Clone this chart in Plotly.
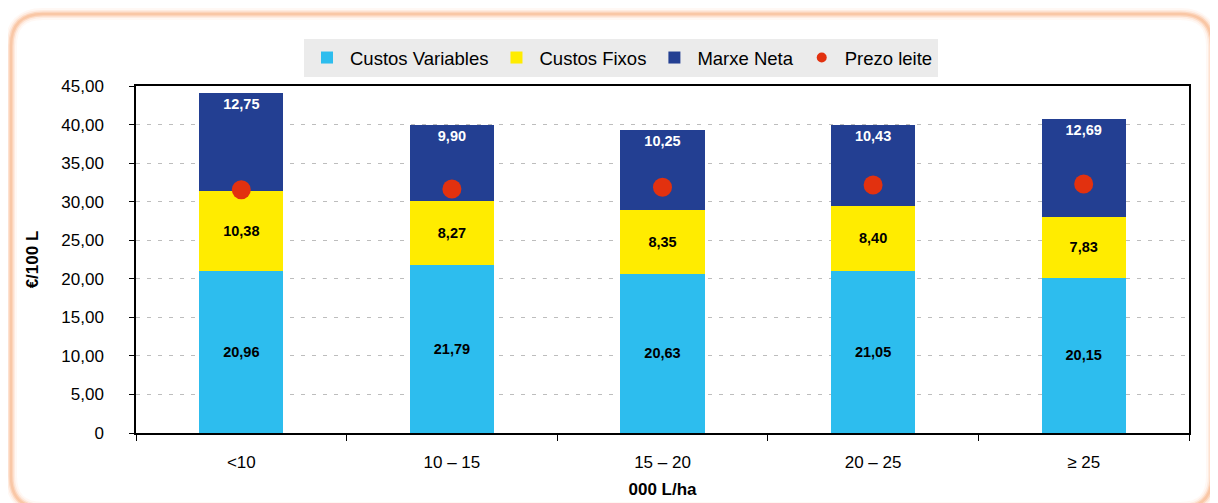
import plotly.graph_objects as go

# Data
categories = ["<10", "10 – 15", "15 – 20", "20 – 25", "≥ 25"]
custos_variables = [20.96, 21.79, 20.63, 21.05, 20.15]
custos_fixos = [10.38, 8.27, 8.35, 8.40, 7.83]
marxe_neta = [12.75, 9.90, 10.25, 10.43, 12.69]
prezo_leite = [31.55, 31.64, 31.87, 32.16, 32.29]
y_ticks = [0, 5, 10, 15, 20, 25, 30, 35, 40, 45]
y_ticklabels = ["0", "5,00", "10,00", "15,00", "20,00", "25,00", "30,00", "35,00", "40,00", "45,00"]

# page body has an 8px margin, so work in figure coords (page - 8)
OFF = 8
W, H = 1218 - OFF, 503 - OFF
L, R, T, B = 136 - OFF, 1189 - OFF, 86 - OFF, 433 - OFF


def fmt(v):
    return f"{v:.2f}".replace(".", ",")


def px(x):
    return (x - OFF - L) / (R - L)


def py(y):
    return (B - (y - OFF)) / (B - T)


FONT = "Liberation Sans, Arial, sans-serif"
RED = "#E2310F"

fig = go.Figure()

fig.add_trace(go.Bar(
    x=categories, y=custos_variables, name="Custos Variables",
    marker=dict(color="#2DBDEE", line=dict(width=0)),
    text=[fmt(v) for v in custos_variables], textposition="inside",
    insidetextanchor="middle",
    textfont=dict(family=FONT, size=14.5, color="black", weight="bold"),
))
fig.add_trace(go.Bar(
    x=categories, y=custos_fixos, name="Custos Fixos",
    marker=dict(color="#FFEC00", line=dict(width=0)),
    text=[fmt(v) for v in custos_fixos], textposition="inside",
    insidetextanchor="middle",
    textfont=dict(family=FONT, size=14.5, color="black", weight="bold"),
))
fig.add_trace(go.Bar(
    x=categories, y=marxe_neta, name="Marxe Neta",
    marker=dict(color="#233F92", line=dict(width=0)),
    text=[fmt(v) for v in marxe_neta], textposition="inside",
    insidetextanchor="end",
    textfont=dict(family=FONT, size=14.5, color="white", weight="bold"),
))
fig.add_trace(go.Scatter(
    x=categories, y=prezo_leite, name="Prezo leite", mode="markers",
    marker=dict(color=RED, size=19, line=dict(width=0)),
    showlegend=False,
))
# legend entry with the smaller dot used in the original legend
fig.add_trace(go.Scatter(
    x=[None], y=[None], name="Prezo leite", mode="markers",
    marker=dict(color=RED, size=10, line=dict(width=0)),
))

# rounded frame around the chart (page pixel coords converted to paper)
x0, x1, y0, y1, r = 11, 1212, 14, 508, 32


def rounded(x0, y0, x1, y1, r):
    pts = [
        f"M {px(x0 + r)},{py(y0)}",
        f"L {px(x1 - r)},{py(y0)}",
        f"Q {px(x1)},{py(y0)} {px(x1)},{py(y0 + r)}",
        f"L {px(x1)},{py(y1 - r)}",
        f"Q {px(x1)},{py(y1)} {px(x1 - r)},{py(y1)}",
        f"L {px(x0 + r)},{py(y1)}",
        f"Q {px(x0)},{py(y1)} {px(x0)},{py(y1 - r)}",
        f"L {px(x0)},{py(y0 + r)}",
        f"Q {px(x0)},{py(y0)} {px(x0 + r)},{py(y0)} Z",
    ]
    return " ".join(pts)


shapes = []
for w, op in [(12, 0.08), (8, 0.15), (5, 0.3)]:
    shapes.append(dict(type="path", xref="paper", yref="paper", layer="below",
                       path=rounded(x0, y0, x1, y1, r),
                       line=dict(color=f"rgba(249,170,120,{op})", width=w)))
shapes.append(dict(type="path", xref="paper", yref="paper", layer="below",
                   path=rounded(x0, y0, x1, y1, r),
                   line=dict(color="#F9C7A6", width=2.5)))

fig.update_layout(
    width=W, height=H,
    margin=dict(l=L, r=W - R, t=T, b=H - B, autoexpand=False),
    paper_bgcolor="white", plot_bgcolor="white",
    barmode="stack", bargap=0.6,
    font=dict(family=FONT, size=18, color="black"),
    showlegend=True,
    legend=dict(
        orientation="h", x=px(304), y=py(39), xanchor="left", yanchor="top",
        bgcolor="#EBEBEB", font=dict(size=18.5), traceorder="normal",
        itemwidth=36, tracegroupgap=0,
    ),
    shapes=shapes,
    uniformtext=dict(mode="show", minsize=10),
)

fig.update_xaxes(
    type="category", showline=True, mirror=True, linecolor="black", linewidth=1.5,
    ticks="outside", tickson="boundaries", ticklen=6, tickcolor="black",
    tickfont=dict(size=17), ticklabelstandoff=13, automargin=False,
    title=dict(text="<b>000 L/ha</b>", font=dict(size=17), standoff=12),
    showgrid=False,
)
fig.update_yaxes(
    range=[0, 45], tickvals=y_ticks, ticktext=y_ticklabels,
    showline=True, mirror=True, linecolor="black", linewidth=1.5,
    ticks="outside", ticklen=5, tickcolor="black",
    tickfont=dict(size=17), ticklabelstandoff=22, automargin=False,
    showgrid=True, gridcolor="#BDBDBD", griddash="4px,7px", gridwidth=1,
    zeroline=False,
    title=dict(text="<b>€/100 L</b>", font=dict(size=17), standoff=18),
)

fig.write_html("out.html")
